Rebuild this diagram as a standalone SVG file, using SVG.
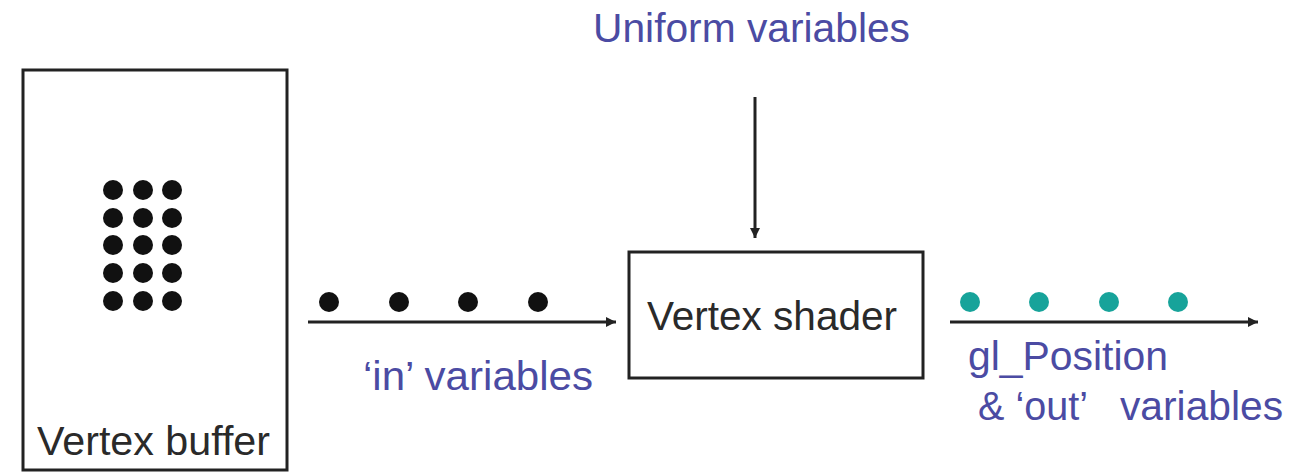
<svg xmlns="http://www.w3.org/2000/svg" width="1293" height="472" viewBox="0 0 1293 472">
<style>
.box{fill:#fff;stroke:#222;stroke-width:3}
.lbl{font-family:"Liberation Sans",Arial,sans-serif;font-size:41px;fill:#2a2a2a}
.blue{font-family:"Liberation Sans",Arial,sans-serif;font-size:40px;fill:#4b4ba3}
.line{stroke:#222;stroke-width:3;fill:none}
.dot{fill:#111}
.teal{fill:#17a39a}
</style>
<defs>
<marker id="ah" viewBox="0 0 10 10" refX="10" refY="5" markerWidth="13" markerHeight="10" orient="auto" markerUnits="userSpaceOnUse">
<path d="M0,0 L10,5 L0,10 z" fill="#222"/>
</marker>
</defs>
<rect width="1293" height="472" fill="#fff"/>
<g id="vertex-buffer">
<rect class="box" x="23" y="70" width="264" height="400"/>
<g class="dot">
<circle cx="113" cy="190" r="10"/><circle cx="143" cy="190" r="10"/><circle cx="172" cy="190" r="10"/>
<circle cx="113" cy="218" r="10"/><circle cx="143" cy="218" r="10"/><circle cx="172" cy="218" r="10"/>
<circle cx="113" cy="245" r="10"/><circle cx="143" cy="245" r="10"/><circle cx="172" cy="245" r="10"/>
<circle cx="113" cy="273" r="10"/><circle cx="143" cy="273" r="10"/><circle cx="172" cy="273" r="10"/>
<circle cx="113" cy="301" r="10"/><circle cx="143" cy="301" r="10"/><circle cx="172" cy="301" r="10"/>
</g>
<text class="lbl" x="37" y="455" textLength="233" lengthAdjust="spacingAndGlyphs">Vertex buffer</text>
</g>
<g id="vertex-shader">
<rect class="box" x="629" y="252" width="294" height="126"/>
<text class="lbl" x="647" y="330" textLength="250" lengthAdjust="spacingAndGlyphs">Vertex shader</text>
</g>
<g id="uniform-variables">
<text class="blue" x="593" y="42" textLength="317" lengthAdjust="spacingAndGlyphs">Uniform variables</text>
</g>
<g id="connectors">
<line class="line" x1="755" y1="97" x2="755" y2="238" stroke-width="2" marker-end="url(#ah)"/>
<line class="line" x1="308" y1="322" x2="616" y2="322" marker-end="url(#ah)"/>
<line class="line" x1="950" y1="322" x2="1258" y2="322" marker-end="url(#ah)"/>
</g>
<g id="in-variables">
<g class="dot">
<circle cx="329" cy="302" r="10"/><circle cx="399" cy="302" r="10"/><circle cx="468" cy="302" r="10"/><circle cx="538" cy="302" r="10"/>
</g>
<text class="blue" x="363" y="390" textLength="230" lengthAdjust="spacingAndGlyphs">‘in’ variables</text>
</g>
<g id="out-variables">
<g class="teal">
<circle cx="970" cy="302" r="10"/><circle cx="1039" cy="302" r="10"/><circle cx="1109" cy="302" r="10"/><circle cx="1178" cy="302" r="10"/>
</g>
<text class="blue" x="968" y="370" textLength="200" lengthAdjust="spacingAndGlyphs">gl_Position</text>
<text class="blue" x="978" y="420" textLength="110" lengthAdjust="spacingAndGlyphs">&amp; ‘out’</text>
<text class="blue" x="1120" y="420" textLength="163" lengthAdjust="spacingAndGlyphs">variables</text>
</g>
</svg>
